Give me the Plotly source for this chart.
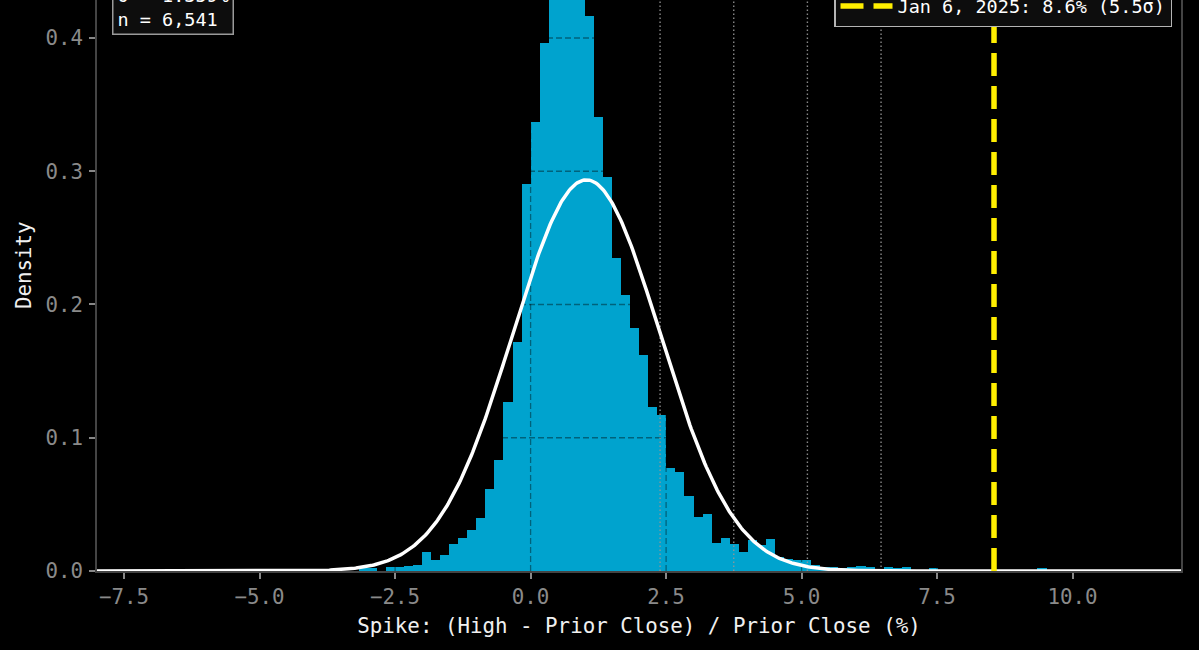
import numpy as np
import plotly.graph_objects as go

# ---------------- data ----------------
bin_start = -3.173          # left edge of first histogram bin (%)
bin_width = 0.167           # histogram bin width (%)
density = [
    0.0025, 0.0025, 0.0, 0.0030, 0.0033, 0.0040, 0.0047, 0.0143, 0.0083, 0.0123,
    0.0203, 0.0248, 0.0308, 0.0400, 0.0618, 0.0835, 0.1270, 0.1717, 0.2902, 0.3368,
    0.3965, 0.4286, 0.4420, 0.4480, 0.4410, 0.4165, 0.3408, 0.2955, 0.2348, 0.2070,
    0.1820, 0.1624, 0.1228, 0.1168, 0.0775, 0.0745, 0.0566, 0.0406, 0.0429, 0.0210,
    0.0248, 0.0203, 0.0143, 0.0233, 0.0195, 0.0240, 0.0105, 0.0090, 0.0083, 0.0083,
    0.0045, 0.0030, 0.0030, 0.0023, 0.0030, 0.0038, 0.0030, 0.0, 0.0030, 0.0023,
    0.0030, 0.0, 0.0, 0.0023, 0.0, 0.0, 0.0, 0.0, 0.0, 0.0,
    0.0, 0.0, 0.0, 0.0, 0.0, 0.0023,
]
mu = 1.030                  # mean spike (%)
sigma = 1.359               # std dev (%)
n_obs = 6541
sigma_multiples = [1, 2, 3, 4]
event_label = "Jan 6, 2025"
event_value = 8.55          # %
event_sigma = 5.5

x_range = [-8.0, 12.0]
y_range = [0.0, 0.4285]
x_ticks = [-7.5, -5.0, -2.5, 0.0, 2.5, 5.0, 7.5, 10.0]
x_ticktext = ["\u22127.5", "\u22125.0", "\u22122.5", "0.0", "2.5", "5.0", "7.5", "10.0"]
y_ticks = [0.0, 0.1, 0.2, 0.3, 0.4]
y_ticktext = ["0.0", "0.1", "0.2", "0.3", "0.4"]

# ---------------- styles ----------------
FONT = "DejaVu Sans Mono"
BAR_COLOR = "#00A3CE"
GRID_COLOR = "rgba(0,0,0,0.4)"
SPINE = "#444444"
TICK_LABEL = "#8a8a8a"

centers = [bin_start + bin_width * (i + 0.5) for i in range(len(density))]

fig = go.Figure()

fig.add_trace(go.Bar(
    x=centers, y=density, width=bin_width,
    marker=dict(color=BAR_COLOR, line=dict(width=0)),
    showlegend=False, hoverinfo="skip",
))

# grid lines drawn above the bars (dashed, dark)
gx, gy = [], []
for v in x_ticks:
    gx += [v, v, None]
    gy += [y_range[0], y_range[1], None]
for v in y_ticks[1:]:
    gx += [x_range[0], x_range[1], None]
    gy += [v, v, None]
fig.add_trace(go.Scatter(
    x=gx, y=gy, mode="lines",
    line=dict(color=GRID_COLOR, width=1.3, dash="6px,3px"),
    showlegend=False, hoverinfo="skip",
))

# sigma reference lines
sx, sy = [], []
for k in sigma_multiples:
    v = mu + k * sigma
    sx += [v, v, None]
    sy += [y_range[0], y_range[1], None]
fig.add_trace(go.Scatter(
    x=sx, y=sy, mode="lines",
    line=dict(color="rgba(150,150,150,0.9)", width=1.4, dash="1.5px,2.5px"),
    showlegend=False, hoverinfo="skip",
))

# normal fit
xs = np.linspace(x_range[0], x_range[1], 800)
pdf = np.exp(-0.5 * ((xs - mu) / sigma) ** 2) / (sigma * np.sqrt(2 * np.pi))
fig.add_trace(go.Scatter(
    x=xs, y=pdf, mode="lines",
    line=dict(color="white", width=3.5),
    name=f"Normal fit (\u03bc={mu:.2f}%, \u03c3={sigma:.2f}%)",
    showlegend=False, hoverinfo="skip",
))

# event line
fig.add_trace(go.Scatter(
    x=[event_value, event_value], y=[y_range[0], y_range[1]], mode="lines",
    line=dict(color="#FFEE00", width=5.5, dash="23px,10px"),
    name=f"{event_label}: {event_value:.1f}% ({event_sigma:.1f}\u03c3)",
    showlegend=True, hoverinfo="skip",
))

W, H = 1199, 650
ML, MR, MT, MB = 97, 18, 0, 79
plot_w = W - ML - MR
plot_h = H - MT - MB

fig.update_layout(
    width=W, height=H,
    margin=dict(l=ML, r=MR, t=MT, b=MB, autoexpand=False),
    paper_bgcolor="black", plot_bgcolor="black",
    font=dict(family=FONT, color="#e8e8e8", size=20.8),
    bargap=0,
    showlegend=True,
    legend=dict(
        x=(1172 - ML) / plot_w, xanchor="right",
        y=(plot_h - 27) / plot_h, yanchor="bottom",
        bgcolor="#0d0d0d", bordercolor="#b5b5b5", borderwidth=1.5,
        itemwidth=52,
        font=dict(family=FONT, size=18.5, color="white"),
    ),
    xaxis=dict(
        range=x_range, tickvals=x_ticks, ticktext=x_ticktext,
        showgrid=False, zeroline=False,
        showline=True, linecolor=SPINE, linewidth=1.5, mirror=True,
        ticks="outside", ticklen=6, tickwidth=1.5, tickcolor="#888888",
        tickfont=dict(family=FONT, size=20.8, color=TICK_LABEL),
        title=dict(text="Spike: (High - Prior Close) / Prior Close (%)",
                   font=dict(family=FONT, size=20.8, color="#f0f0f0"), standoff=11),
    ),
    yaxis=dict(
        range=y_range, tickvals=y_ticks, ticktext=y_ticktext,
        showgrid=False, zeroline=False,
        showline=True, linecolor=SPINE, linewidth=1.5, mirror=True,
        ticks="outside", ticklen=6, tickwidth=1.5, tickcolor="#888888",
        ticklabelstandoff=2,
        tickfont=dict(family=FONT, size=20.8, color=TICK_LABEL),
    ),
)

# y-axis title (the plot area of the original extends above the visible crop)
fig.add_annotation(
    xref="paper", yref="paper",
    x=(24 - ML) / plot_w, xanchor="center",
    y=(plot_h - 265) / plot_h, yanchor="middle",
    text="Density", textangle=-90, showarrow=False,
    font=dict(family=FONT, size=20.8, color="#f0f0f0"),
)

fig.add_annotation(
    xref="paper", yref="paper",
    x=(112 - ML) / plot_w, xanchor="left",
    y=(plot_h - 35) / plot_h, yanchor="bottom",
    text=f"\u03bc = {mu:.3f}%<br>\u03c3 = {sigma:.3f}%<br>n = {n_obs:,}",
    align="left", showarrow=False,
    font=dict(family=FONT, size=18.5, color="white"),
    bgcolor="#0d0d0d", bordercolor="#9a9a9a", borderwidth=1.5, borderpad=4,
)

fig.write_html("out.html")
